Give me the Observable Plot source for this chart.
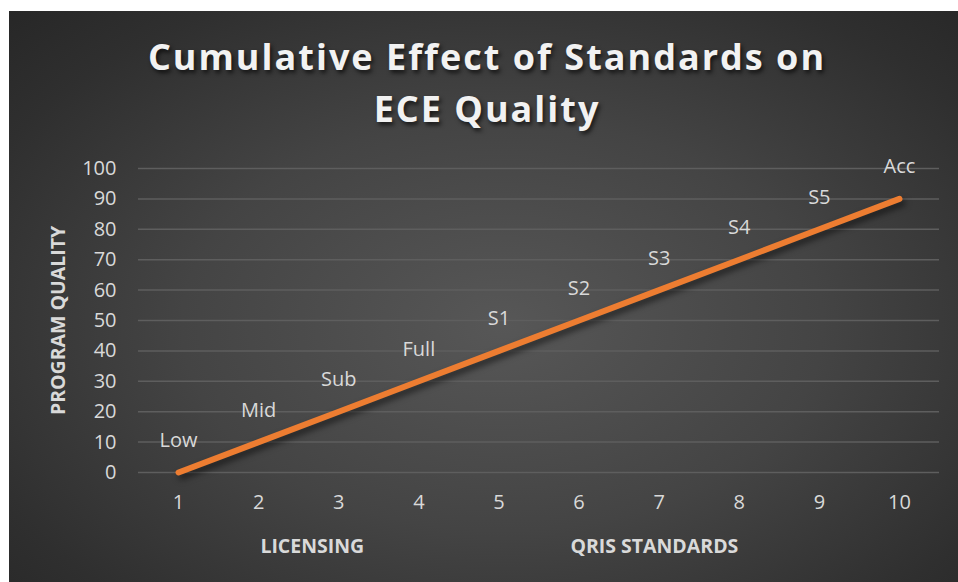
<!DOCTYPE html>
<html>
<head>
<meta charset="utf-8">
<script src="https://cdn.jsdelivr.net/npm/d3@7"></script>
<script src="https://cdn.jsdelivr.net/npm/@observablehq/plot@0.6"></script>
<style>
  html, body { margin: 0; padding: 0; background: #ffffff; }
  #wrap {
    position: absolute; left: 9px; top: 11px; width: 949px; height: 571px;
    background: radial-gradient(ellipse 75% 80% at 52% 55%, #575757 0%, #444444 45%, #2f2f2f 80%, #262626 100%);
    overflow: hidden;
  }
  #title {
    padding-top: 20px; padding-left: 7px; height: 105px;
    text-align: center; color: #f2f2f2;
    font-family: "Open Sans", sans-serif; font-weight: 700; font-size: 36px;
    line-height: 52px; letter-spacing: 2px;
    text-shadow: 2px 3px 4px rgba(0,0,0,0.65);
  }
  #chart svg { display: block; }
  .trend { filter: drop-shadow(3px 4px 3px rgba(0,0,0,0.55)); }
</style>
</head>
<body>
<div id="wrap">
  <div id="title">Cumulative Effect of Standards on<br>ECE Quality</div>
  <div id="chart"></div>
</div>
<script>
const steps = [1, 2, 3, 4, 5, 6, 7, 8, 9, 10];
const quality = [0, 10, 20, 30, 40, 50, 60, 70, 80, 90];
const stageLabels = ["Low", "Mid", "Sub", "Full", "S1", "S2", "S3", "S4", "S5", "Acc"];
const yTicks = [0, 10, 20, 30, 40, 50, 60, 70, 80, 90, 100];
const yTitle = "PROGRAM QUALITY";
const groupTitles = ["LICENSING", "QRIS STANDARDS"];
const groupCenters = [2.67, 6.94];

const points = steps.map((s, i) => ({step: s, q: quality[i], label: stageLabels[i]}));
const groups = groupTitles.map((t, i) => ({t, x: groupCenters[i]}));

const textColor = "#d9d9d9";

const chart = Plot.plot({
  width: 949,
  height: 446,
  marginTop: 32,
  marginBottom: 110,
  marginLeft: 129,
  marginRight: 19,
  style: {background: "transparent", fontFamily: "Open Sans, sans-serif", color: textColor},
  x: {domain: [0.5, 10.5], ticks: steps},
  y: {domain: [0, 100], ticks: yTicks},
  marks: [
    Plot.gridY(yTicks, {stroke: "#5e5e5e", strokeOpacity: 1, strokeWidth: 1.5}),
    Plot.axisY(yTicks, {tickSize: 0, tickPadding: 22, fontSize: 20, fill: textColor, label: null}),
    Plot.axisX(steps, {tickSize: 0, tickPadding: 22, fontSize: 20, fill: textColor, label: null}),
    Plot.line(points, {x: "step", y: "q", stroke: "#ED7D31", strokeWidth: 6, strokeLinecap: "round", className: "trend"}),
    Plot.text(points, {x: "step", y: "q", text: "label", dy: -32, fontSize: 20, fill: textColor}),
    Plot.text([yTitle], {frameAnchor: "left", textAnchor: "middle", rotate: -90, dx: -80, fontSize: 19.5, fontWeight: 700, fill: textColor}),
    Plot.text(groups, {x: "x", text: "t", frameAnchor: "bottom", dy: 80, fontSize: 19.5, fontWeight: 700, fill: textColor})
  ]
});
document.getElementById("chart").appendChild(chart);
</script>
</body>
</html>
